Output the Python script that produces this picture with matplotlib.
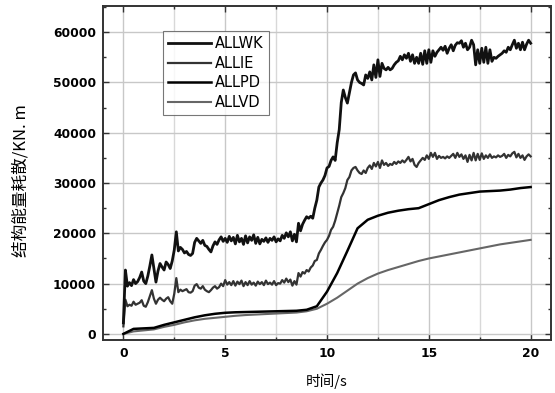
import numpy as np
import matplotlib
matplotlib.use("Agg")
import matplotlib.pyplot as plt
from matplotlib.ticker import MultipleLocator

plt.rcParams['font.family'] = ['DejaVu Sans', 'Noto Sans CJK SC']

# sample times for the noisy curves (every 0.1 s)
t_fine = np.linspace(0, 20, 201)

allwk = [
    2200, 12700, 9500, 10200, 9600, 10800, 10000, 10400, 11200, 12300,
    10500, 10000, 11500, 13500, 15700, 13000, 10300, 12500, 14000, 13300,
    12700, 14300, 13800, 13000, 14500, 16700, 20300, 16500, 17200, 16800,
    16100, 16400, 15800, 15600, 16000, 18200, 19000, 18500, 18000, 18600,
    17600, 17400, 16800, 16300, 17500, 18300, 17800, 18700, 19300, 18400,
    19000, 18200, 19400, 18500, 19200, 17900, 19600, 18300, 19000, 17800,
    19500, 18100, 19300, 18600, 19700, 18000, 19200, 17900, 18800, 18400,
    19100, 18200, 19000, 18600, 19300, 18300, 18900, 18500, 19600, 19000,
    20100, 19300, 20300, 18500, 19800, 18300, 22000, 20500, 21800, 22600,
    23300, 23000, 23400, 23000, 25000, 26600, 29200, 30000, 30600, 31500,
    33000, 33300, 34500, 35200, 34500, 38000, 40600, 46000, 48500, 47000,
    45900, 48000, 50000, 51500, 51900, 50500, 50000, 49800, 49500, 51500,
    50800, 52100, 50500, 53500, 51000, 54500, 51200, 53800, 52800, 52500,
    53000, 52500, 52800, 53500, 54000, 54300, 55200, 54500, 55500, 54800,
    55800, 54200, 55500, 53800, 55000, 53800, 55800, 53600, 56300, 53800,
    56500, 54000, 56300, 55200, 56000, 56500, 57000, 56400, 57200, 55800,
    56800, 57500, 56300, 57400, 57900, 57800, 58300, 57000, 57800, 56500,
    57000, 58400, 57500, 53500, 56500, 53800, 56800, 54000, 57000, 53800,
    56500, 54200, 55000, 54800, 55200, 55500, 55800, 56300, 56000, 57000,
    56500, 57500, 58400, 56800, 57800, 56500, 58000, 56500, 57600, 58400,
    57800,
]

allie = [
    1500, 6800, 5500, 5800, 5600, 6400, 5800, 6000, 6200, 6700,
    5600, 5400, 6300, 7500, 8700, 7000, 6000, 6800, 7200, 6800,
    6500, 7000, 7300, 6500, 6000, 8000, 11100, 8300, 8800, 8500,
    8700, 8900, 8300, 8200, 8500, 9600, 9900, 9200, 9000, 9500,
    8800, 8500, 8300, 8700, 9200, 9500, 9000, 9300, 10000, 9500,
    10700, 9800, 10300, 9700, 10500, 9600, 10400, 9900, 10600, 9500,
    10300, 9700, 10500, 9800, 10200, 9600, 10400, 9900, 10300, 9700,
    10600, 9900, 10200, 9800, 10500, 9700, 10100, 10000, 10700, 10200,
    11000, 10300, 10800, 9600, 10500, 9800, 12100, 11400, 12300, 12000,
    12700, 12400, 13200, 13600, 14500, 14700, 16000, 16700, 17500, 18200,
    18700, 19500, 20700, 21300, 22500, 24000, 25500, 27200, 28000, 29000,
    30600, 31200, 32500, 33000, 33200, 32500, 32000, 31800, 32500, 32000,
    33000, 33500, 32800, 34000, 33300, 34200, 33000, 34500, 33600, 34000,
    33400, 33800, 33600, 34200, 33800, 34300, 34000, 34500, 34100, 34600,
    35200, 34300, 34800, 33600, 33200, 34000, 34500, 35000, 34600, 35500,
    34800, 36000, 35200, 36000, 34800, 35400, 35000, 35200, 34900, 35300,
    35000, 35400, 35800, 35000, 36000, 35200, 35700, 34800, 35500, 34200,
    35600, 34500, 36000, 34500, 35800, 34600, 35900, 34800, 35500, 35000,
    35700, 35000, 35300, 35100, 35500, 35200, 35400, 35800, 35000, 35600,
    35300, 35900, 36200, 35100, 35800, 35000, 35500, 34600, 35300, 35700,
    35300,
]

# smooth curves, every 0.5 s
t_coarse = np.linspace(0, 20, 41)

allpd = [
    0, 1000, 1100, 1200, 1800, 2300, 2800, 3300, 3700, 4000,
    4200, 4300, 4350, 4400, 4450, 4500, 4550, 4600, 4800, 5500,
    8400, 12100, 16500, 21000, 22700, 23500, 24100, 24500, 24800, 25000,
    25800, 26600, 27200, 27700, 28000, 28300, 28400, 28500, 28700, 29000,
    29200,
]

allvd = [
    0, 500, 700, 900, 1400, 1800, 2300, 2700, 3000, 3200,
    3400, 3600, 3750, 3850, 3950, 4050, 4150, 4250, 4500, 5000,
    6000, 7200, 8600, 10000, 11100, 12000, 12700, 13300, 13900, 14500,
    15000, 15400, 15800, 16200, 16600, 17000, 17400, 17800, 18100, 18400,
    18700,
]

fig = plt.figure(figsize=(5.55, 3.93), dpi=100)
ax = fig.add_axes([0.1856, 0.135, 0.8072, 0.8497])

ax.plot(t_fine, allwk, color='#111111', lw=2.0, label='ALLWK', zorder=5)
ax.plot(t_fine, allie, color='#333333', lw=1.6, label='ALLIE', zorder=4)
ax.plot(t_coarse, allpd, color='#000000', lw=1.8, label='ALLPD', zorder=4)
ax.plot(t_coarse, allvd, color='#666666', lw=1.5, label='ALLVD', zorder=3)

ax.set_xlim(-1, 21)
ax.set_ylim(-1200, 65200)
ax.xaxis.set_major_locator(MultipleLocator(5))
ax.xaxis.set_minor_locator(MultipleLocator(2.5))
ax.yaxis.set_major_locator(MultipleLocator(10000))
ax.yaxis.set_minor_locator(MultipleLocator(5000))

ax.grid(True, which='major', color='#c8c8c8', lw=1.0, zorder=0)
ax.xaxis.grid(True, which='minor', color='#d8d8d8', lw=1.0, zorder=0)

ax.tick_params(which='both', direction='in', top=True, right=True,
               width=1.0, color='#333333')
ax.tick_params(which='major', length=4, labelsize=8.8, pad=5)
ax.tick_params(which='minor', length=2.5)
for lab in ax.get_xticklabels() + ax.get_yticklabels():
    lab.set_fontweight('bold')
for s in ax.spines.values():
    s.set_linewidth(1.4)
    s.set_color('#333333')

ax.set_xlabel('时间/s', family=['Noto Sans CJK SC'], fontsize=10.5, labelpad=10)
ax.set_ylabel('结构能量耗散/KN. m', family=['Noto Sans CJK SC', 'DejaVu Sans'],
              fontsize=12)
ax.yaxis.set_label_coords(-0.163, 0.476)

leg = ax.legend(loc='upper left', bbox_to_anchor=(0.133, 0.924), fontsize=10.5,
                frameon=True, fancybox=False, edgecolor='#555555',
                handlelength=3.0, handletextpad=0.25, labelspacing=0.3,
                borderpad=0.35, borderaxespad=0)
leg.get_frame().set_linewidth(0.8)

fig.savefig('out.png', dpi=100)
